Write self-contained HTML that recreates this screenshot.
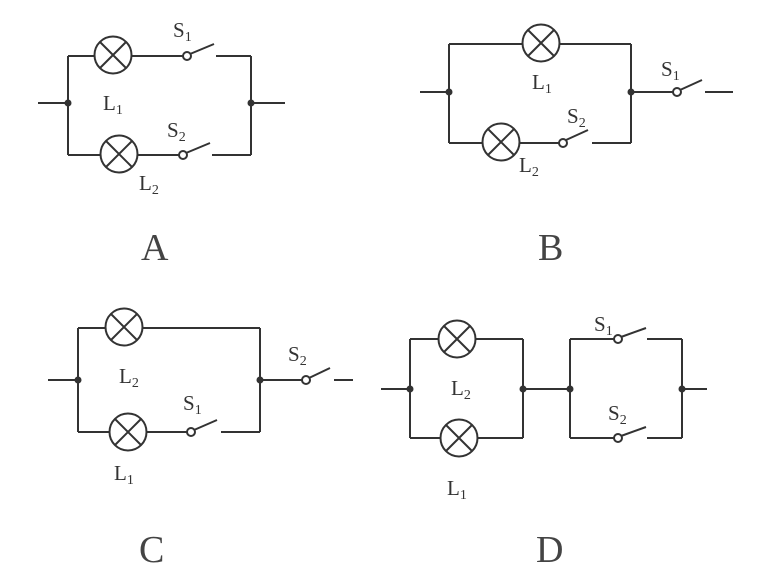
<!DOCTYPE html>
<html><head><style>
html,body{margin:0;padding:0;background:#fff;}
svg{display:block;}
text{font-family:"Liberation Serif",serif;fill:#333;}
.l{font-size:21px;}
.s{font-size:14px;}
.b{font-size:38px;fill:#444;}
</style></head><body>
<svg width="770" height="564" viewBox="0 0 770 564" xmlns="http://www.w3.org/2000/svg">
<defs>
<g id="lamp"><circle r="18.5" fill="#fff" stroke="#333" stroke-width="2"/><path d="M-13,-13L13,13M13,-13L-13,13" stroke="#333" stroke-width="2"/></g>
<g id="dot"><circle r="3.5" fill="#333"/></g>
</defs>
<g stroke="#333" stroke-width="2" fill="none">
<!-- A -->
<path d="M68,56V155M251,56V155M38,103H68M251,103H285M68,56H183M216,56H251M68,155H179M212,155H251"/>
<path d="M190,54L214,44M186,153L210,143"/>
<!-- B -->
<path d="M449,44V143M631,44V143M420,92H449M449,44H631M631,92H673M705,92H733M449,143H559M592,143H631"/>
<path d="M680,90L702,80M566,140L588,130"/>
<!-- C -->
<path d="M78,328V432M260,328V432M48,380H78M78,328H260M260,380H302M334,380H353M78,432H187M221,432H260"/>
<path d="M309,378L330,368M194,430L217,420"/>
<!-- D -->
<path d="M410,339V438M523,339V438M381,389H410M410,339H523M410,438H523M523,389H570M570,339V438M682,339V438M682,389H707M570,339H614M647,339H682M570,438H614M647,438H682"/>
<path d="M621,337L646,328M621,436L646,427"/>
</g>
<g fill="#fff" stroke="#333" stroke-width="2">
<circle cx="187" cy="56" r="4"/><circle cx="183" cy="155" r="4"/>
<circle cx="677" cy="92" r="4"/><circle cx="563" cy="143" r="4"/>
<circle cx="306" cy="380" r="4"/><circle cx="191" cy="432" r="4"/>
<circle cx="618" cy="339" r="4"/><circle cx="618" cy="438" r="4"/>
</g>
<use href="#lamp" x="113" y="55"/><use href="#lamp" x="119" y="154"/>
<use href="#lamp" x="541" y="43"/><use href="#lamp" x="501" y="142"/>
<use href="#lamp" x="124" y="327"/><use href="#lamp" x="128" y="432"/>
<use href="#lamp" x="457" y="339"/><use href="#lamp" x="459" y="438"/>
<use href="#dot" x="68" y="103"/><use href="#dot" x="251" y="103"/>
<use href="#dot" x="449" y="92"/><use href="#dot" x="631" y="92"/>
<use href="#dot" x="78" y="380"/><use href="#dot" x="260" y="380"/>
<use href="#dot" x="410" y="389"/><use href="#dot" x="523" y="389"/><use href="#dot" x="570" y="389"/><use href="#dot" x="682" y="389"/>
<!-- labels -->
<text class="l" x="173" y="37">S<tspan class="s" dy="4">1</tspan></text>
<text class="l" x="103" y="110">L<tspan class="s" dy="4">1</tspan></text>
<text class="l" x="167" y="137">S<tspan class="s" dy="4">2</tspan></text>
<text class="l" x="139" y="190">L<tspan class="s" dy="4">2</tspan></text>
<text class="b" x="141" y="260">A</text>

<text class="l" x="532" y="89">L<tspan class="s" dy="4">1</tspan></text>
<text class="l" x="661" y="76">S<tspan class="s" dy="4">1</tspan></text>
<text class="l" x="567" y="123">S<tspan class="s" dy="4">2</tspan></text>
<text class="l" x="519" y="172">L<tspan class="s" dy="4">2</tspan></text>
<text class="b" x="538" y="260">B</text>

<text class="l" x="119" y="383">L<tspan class="s" dy="4">2</tspan></text>
<text class="l" x="183" y="410">S<tspan class="s" dy="4">1</tspan></text>
<text class="l" x="288" y="361">S<tspan class="s" dy="4">2</tspan></text>
<text class="l" x="114" y="480">L<tspan class="s" dy="4">1</tspan></text>
<text class="b" x="139" y="562">C</text>

<text class="l" x="451" y="395">L<tspan class="s" dy="4">2</tspan></text>
<text class="l" x="594" y="331">S<tspan class="s" dy="4">1</tspan></text>
<text class="l" x="608" y="420">S<tspan class="s" dy="4">2</tspan></text>
<text class="l" x="447" y="495">L<tspan class="s" dy="4">1</tspan></text>
<text class="b" x="536" y="562">D</text>
</svg>
</body></html>
